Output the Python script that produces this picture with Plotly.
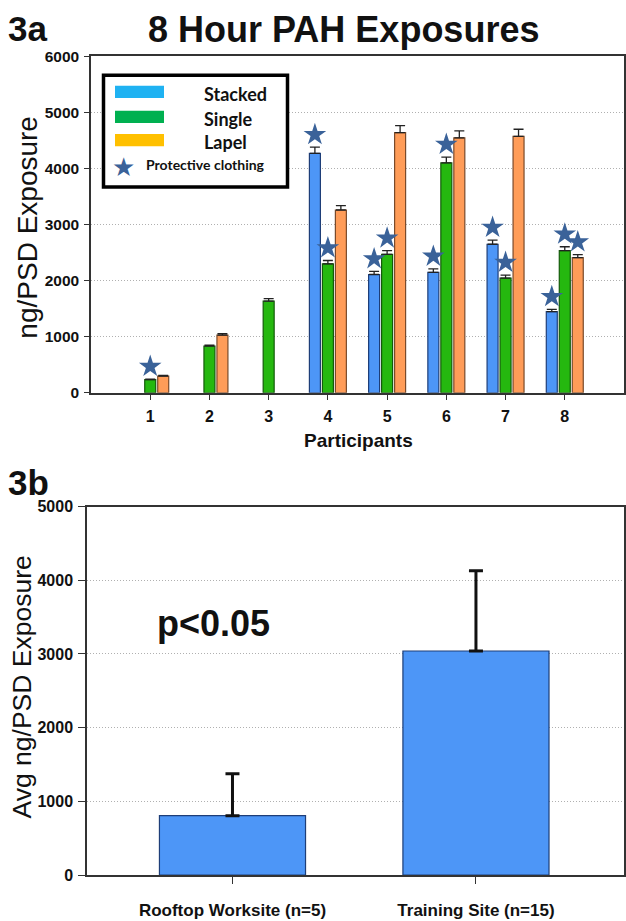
import plotly.graph_objects as go

# ---------------- data ----------------
participants = [1, 2, 3, 4, 5, 6, 7, 8]
stacked = [None, None, None, 4270, 2110, 2150, 2650, 1450]
stacked_err = [0, 0, 0, 110, 55, 60, 75, 40]
single = [235, 835, 1635, 2300, 2470, 4100, 2045, 2535]
single_err = [10, 15, 45, 60, 65, 105, 55, 70]
lapel = [300, 1030, None, 3260, 4640, 4545, 4575, 2410]
lapel_err = [10, 25, 0, 80, 125, 125, 125, 55]
# protective clothing flags
stacked_pc = [False, False, False, True, True, True, True, True]
single_pc = [True, False, False, True, True, True, True, True]
lapel_pc = [False, False, False, False, False, False, False, True]

sites = ["Rooftop Worksite (n=5)", "Training Site (n=15)"]
site_avg = [805, 3040]
site_err = [570, 1090]

series_names = ["Stacked", "Single", "Lapel"]
legend_colors = ["#1FB2F2", "#00B050", "#FFC000"]

# ---------------- style ----------------
W, H = 626, 921
BAR_BLUE = "#4D96F7"
BAR_GREEN = "#25B80F"
BAR_ORANGE = "#FF9C58"
STAR = "#3A6299"
BARGAP = 0.342
GROUPGAP = 0.154
SLOT = (1 - BARGAP) / 3
STAR_PAD = 225
ARIAL = "Liberation Sans, Arial, sans-serif"
LEG = "Lato, sans-serif"


def px(x):
    return x / W


def py(y):
    return 1 - y / H


fig = go.Figure()

series = [
    (stacked, stacked_err, stacked_pc, BAR_BLUE, "#1E3E78"),
    (single, single_err, single_pc, BAR_GREEN, "#145A0A"),
    (lapel, lapel_err, lapel_pc, BAR_ORANGE, "#7A4A2A"),
]
for i, (vals, errs, pc, col, lcol) in enumerate(series):
    fig.add_trace(go.Bar(
        x=participants, y=vals, name=series_names[i],
        marker=dict(color=col, line=dict(color=lcol, width=1.2)),
        error_y=dict(type="data", array=errs, arrayminus=[0] * len(errs),
                     symmetric=False, color="#222222", thickness=1.3, width=5),
        xaxis="x", yaxis="y", showlegend=False,
    ))
    sx, sy = [], []
    for p, v, e, f in zip(participants, vals, errs, pc):
        if f and v is not None:
            sx.append(p + (i - 1) * SLOT)
            sy.append(v + e + STAR_PAD)
    fig.add_trace(go.Scatter(
        x=sx, y=sy, mode="markers",
        marker=dict(symbol="star", size=17, color=STAR, line=dict(width=0)),
        xaxis="x", yaxis="y", showlegend=False, hoverinfo="skip",
    ))

fig.add_trace(go.Bar(
    x=[0, 1], y=site_avg, width=0.6,
    marker=dict(color=BAR_BLUE, line=dict(color="#1E3E78", width=1.2)),
    error_y=dict(type="data", array=site_err, arrayminus=[0, 0], symmetric=False,
                 color="#111111", thickness=3, width=7),
    xaxis="x2", yaxis="y2", showlegend=False,
))


def tf(size):
    return dict(family=ARIAL, size=size, color="#111111", weight="bold")


axis_common = dict(
    showline=True, linecolor="#333333", linewidth=1.5, mirror=True,
    zeroline=False, ticks="outside", tickcolor="#333333", tickwidth=1.3,
)
grid = dict(showgrid=True, gridcolor="#B0B0B0", griddash="1px,2px", gridwidth=1)

fig.update_layout(
    width=W, height=H,
    margin=dict(l=0, r=0, t=0, b=0),
    paper_bgcolor="white", plot_bgcolor="white",
    barmode="group", bargap=BARGAP, bargroupgap=GROUPGAP,
    xaxis=dict(domain=[px(91), px(624)], range=[0.0, 9.0], anchor="y",
               tickvals=participants, ticktext=[str(p) for p in participants],
               showgrid=False, ticklen=5, ticklabelstandoff=3, tickfont=tf(16),
               **axis_common),
    yaxis=dict(domain=[py(391.5), py(48.3)], range=[0, 6000], anchor="x",
               tickvals=[0, 1000, 2000, 3000, 4000, 5000, 6000],
               ticklen=5, ticklabelstandoff=2, tickfont=tf(15.5), **grid, **axis_common),
    xaxis2=dict(domain=[px(87), px(624)], range=[-0.5975, 1.608], anchor="y2",
                tickvals=[0, 1], ticktext=sites, showgrid=False,
                ticklen=7, ticklabelstandoff=12, tickfont=tf(17), **axis_common),
    yaxis2=dict(domain=[py(883.3), py(507.5)], range=[0, 5000], anchor="x2",
                tickvals=[0, 1000, 2000, 3000, 4000, 5000],
                ticklen=7, ticklabelstandoff=2, tickfont=tf(16), **grid, **axis_common),
)

ann = []


def text(x, y, s, size, family=ARIAL, bold=True, xanchor="center", angle=0, color="#111111"):
    ann.append(dict(
        x=px(x), y=py(y), xref="paper", yref="paper", text=s, showarrow=False,
        xanchor=xanchor, yanchor="middle", textangle=angle,
        font=dict(family=family, size=size, color=color, weight="bold" if bold else "normal"),
    ))


text(6, 20, "3a", 35, xanchor="left")
text(343.5, 21, "8 Hour PAH Exposures", 36)
text(28, 223, "ng/PSD Exposure", 28, bold=False, angle=-90)
text(358, 440, "Participants", 19)
text(6, 483, "3b", 35, xanchor="left")
text(22, 692, "Avg ng/PSD Exposure", 26.5, bold=False, angle=-90)
text(155, 627, "p&lt;0.05", 36, xanchor="left")

# manual legend
shapes = [dict(type="rect", xref="paper", yref="paper",
               x0=px(103.5), x1=px(287.5), y0=py(181.5), y1=py(67.5),
               line=dict(color="black", width=3.5), fillcolor="white", layer="above")]
rect_y = [84.5, 110, 133.7]
for c, ry, nm in zip(legend_colors, rect_y, series_names):
    shapes.append(dict(type="rect", xref="paper", yref="paper",
                       x0=px(115), x1=px(164), y0=py(ry + 6.3), y1=py(ry - 6.3),
                       line=dict(width=0), fillcolor=c, layer="above"))
    text(202, ry + 2, nm, 18, family=LEG, xanchor="left")
text(123, 161, "★", 26, family="DejaVu Sans", bold=False, color=STAR)
text(144, 158.5, "Protective clothing", 14, family=LEG, xanchor="left")

fig.update_layout(annotations=ann, shapes=shapes)
fig.write_html("out.html", config={"displayModeBar": False},
               post_script="document.body.style.margin='0';document.body.style.padding='0';")
